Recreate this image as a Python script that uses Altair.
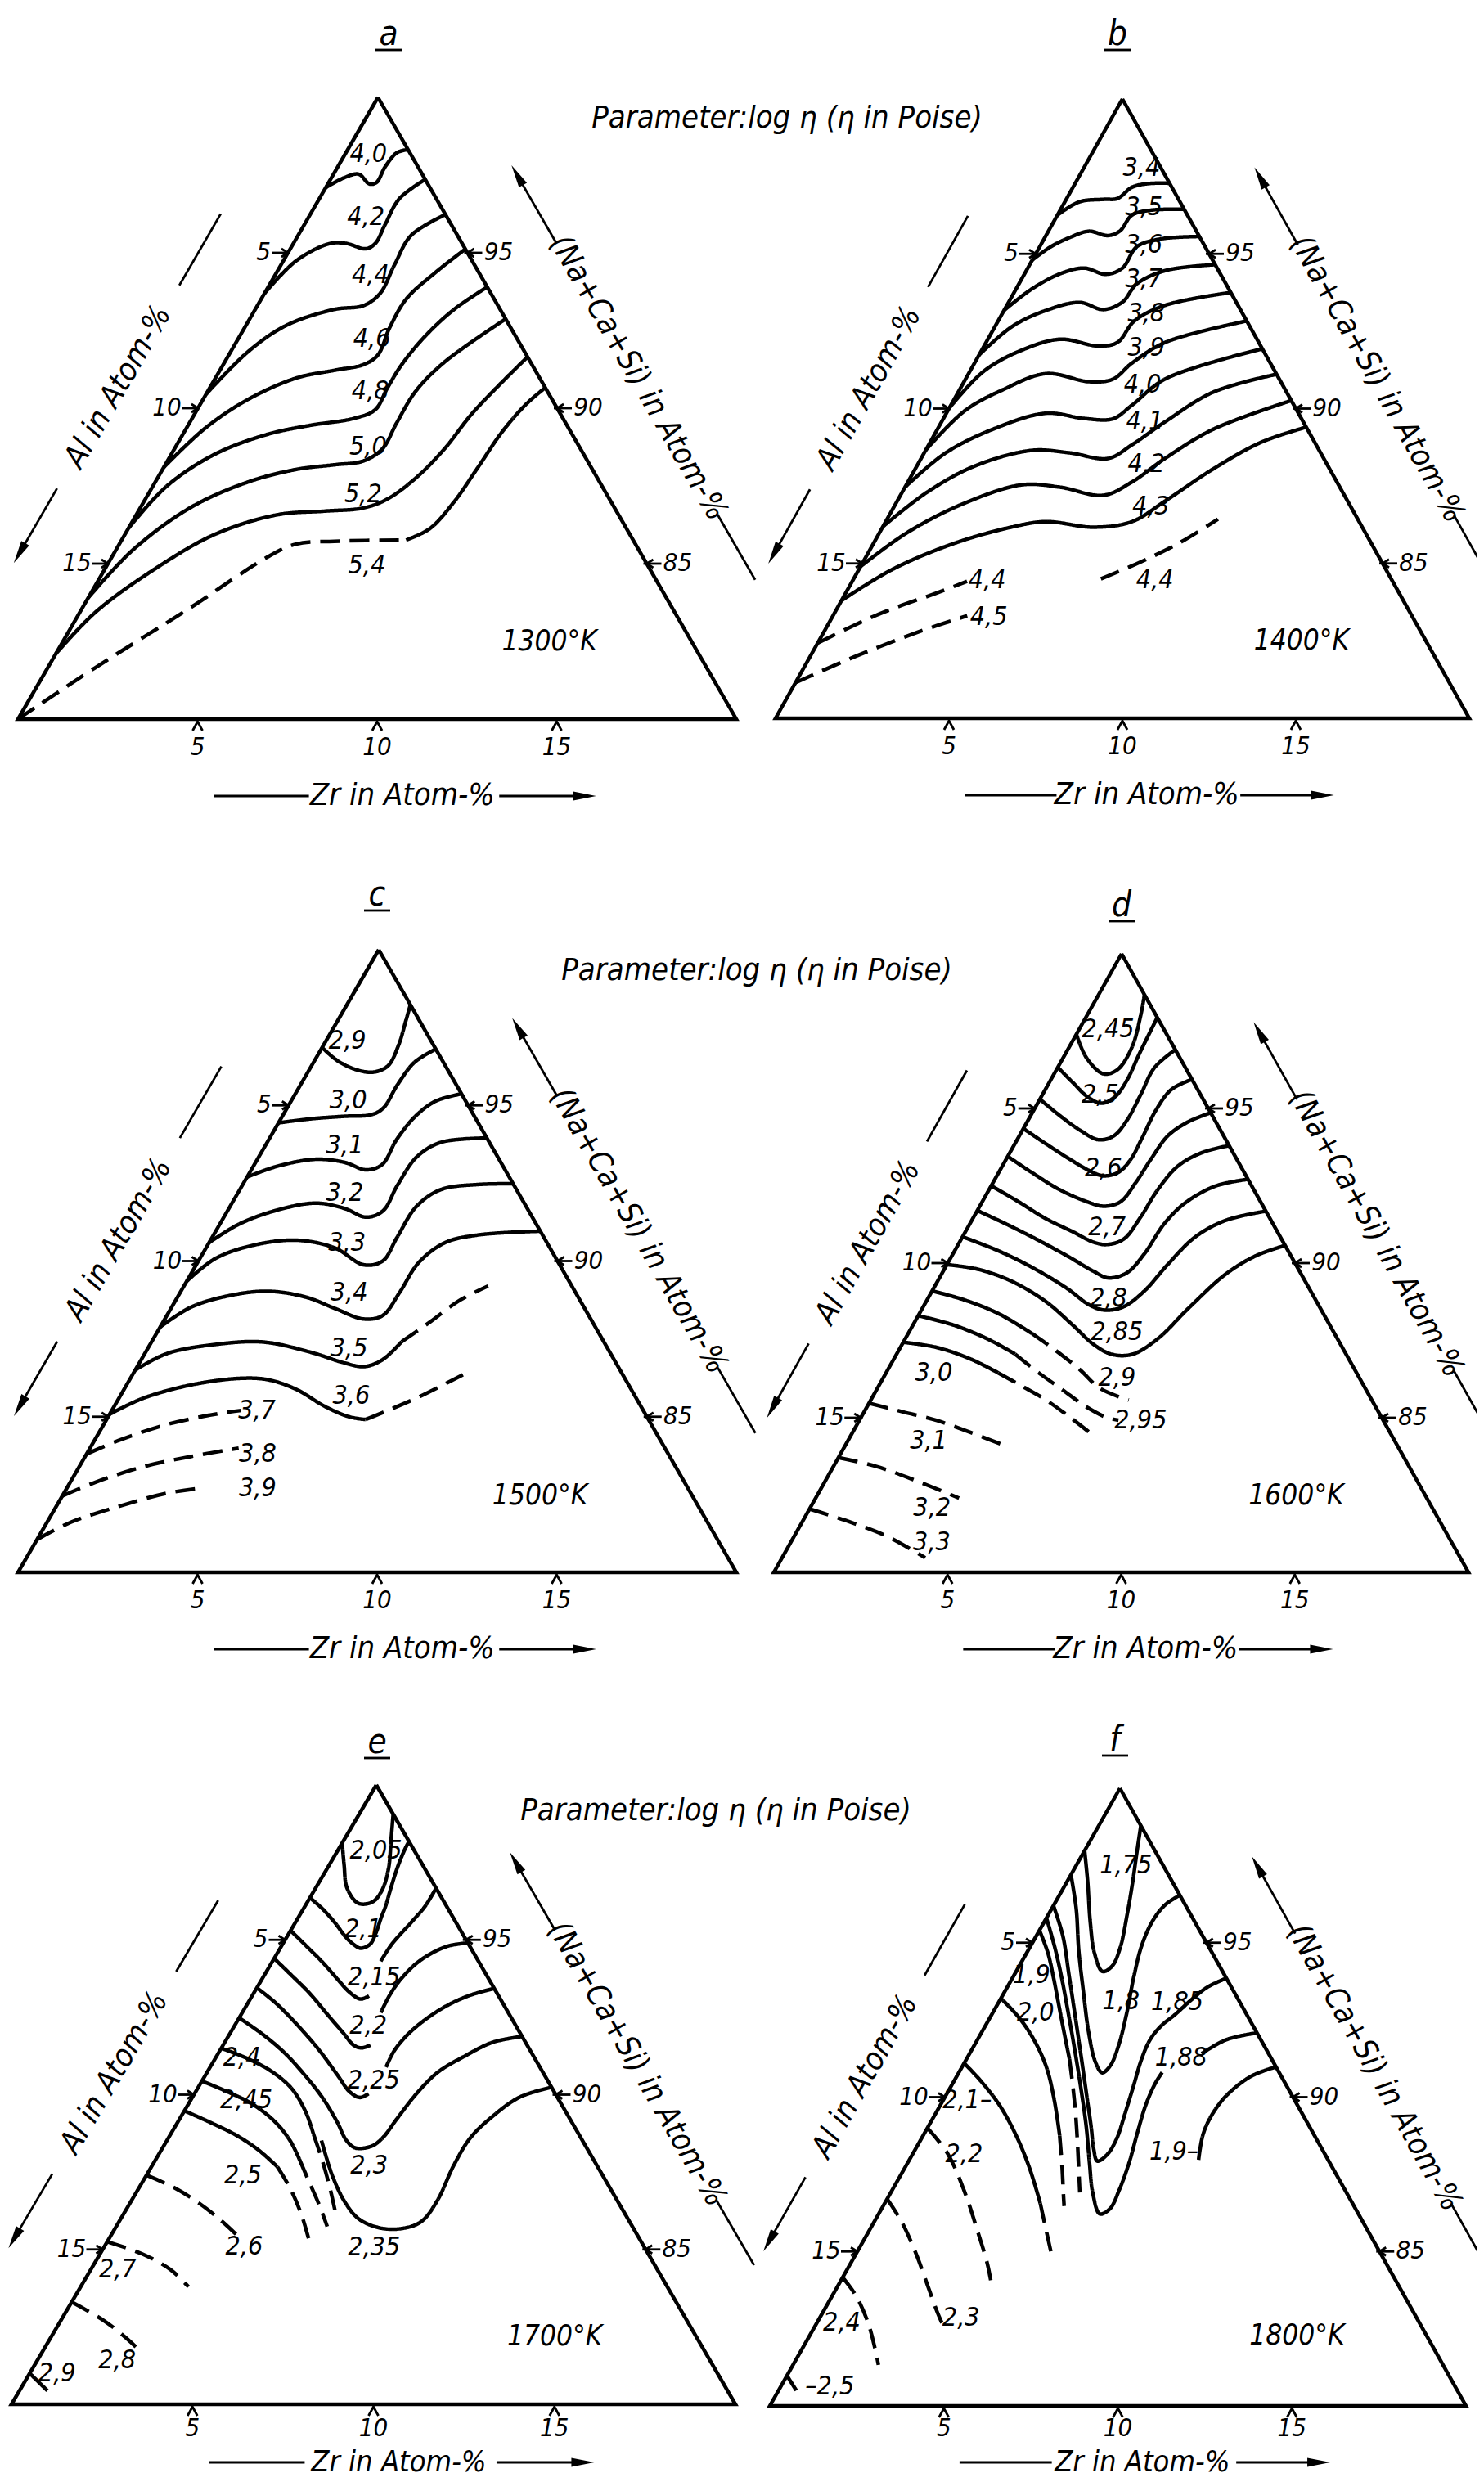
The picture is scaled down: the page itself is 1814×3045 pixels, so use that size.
import math
import altair as alt
import pandas as pd

# ---------------------------------------------------------------- data
PANEL_IDS = ["a", "b", "c", "d", "e", "f"]
TEMPERATURES = ["1300°K", "1400°K", "1500°K", "1600°K", "1700°K", "1800°K"]
TEMP_POS = [(13.55, 3.96), (13.91, 3.58), (13.3, 4.24), (13.8, 3.72), (13.9, 3.9), (14.0, 3.72)]  # (Zr, Al)
PARAM_TEXT = "Parameter:log η (η in Poise)"
ZR_TICKS = [5, 10, 15]
AL_TICKS = [5, 10, 15]
REST_TICKS = ["95", "90", "85"]
AXIS_ZR = "Zr in Atom-%"
AXIS_AL = "Al in Atom-%"
AXIS_REST = "(Na+Ca+Si) in Atom-%"

# iso-viscosity lines: (log eta label, style, [(Zr at-%, Al at-%), ...])
A_LINES = [
    ("4,0", "solid", [(0, 2.9), (0.36, 2.22), (0.70, 1.77), (1.15, 1.63), (1.33, 1.41), (1.32, 0.92), (1.42, 0.36), (1.68, 0)]),
    ("4,2", "solid", [(0, 6.3), (0.36, 4.89), (1.02, 3.68), (1.48, 3.22), (2.10, 2.77), (2.28, 2.42), (2.25, 1.85), (2.23, 1.03), (2.64, 0)]),
    ("4,4", "solid", [(0, 9.55), (0.49, 7.68), (1.13, 6.2), (2.21, 4.61), (2.95, 3.75), (3.22, 3.09), (3.16, 2.22), (3.15, 1.29), (3.77, 0)]),
    ("4,6", "solid", [(0, 11.9), (0.53, 10.1), (1.26, 8.45), (2.25, 6.78), (3.19, 5.59), (3.90, 4.70), (4.15, 4.15), (4.04, 3.37), (4.04, 2.44), (4.42, 1.22), (4.88, 0)]),
    ("4,8", "solid", [(0, 13.86), (0.39, 12.11), (1.21, 10.27), (2.36, 8.48), (3.41, 7.14), (4.50, 5.83), (4.96, 5.09), (4.95, 4.42), (4.97, 3.64), (5.17, 2.5), (5.54, 1.28), (6.1, 0)]),
    ("5,0", "solid", [(0, 16.1), (0.48, 14.06), (1.40, 11.79), (2.59, 9.78), (3.72, 8.25), (4.71, 7.11), (5.45, 6.25), (5.79, 5.52), (5.77, 4.70), (5.79, 3.66), (6.12, 2.40), (7.13, 0)]),
    ("5,2", "solid", [(0, 17.9), (0.43, 16.14), (1.35, 13.87), (2.50, 11.56), (3.92, 9.51), (5.19, 8.12), (6.21, 7.0), (6.73, 6.2), (7.19, 5.06), (7.52, 3.79), (7.73, 2.40), (8.35, 0)]),
    ("5,4", "dashed", [(0, 20), (1.32, 17.03), (3.01, 13.40), (4.33, 10.46), (4.92, 9.45), (5.94, 8.34), (7.92, 6.32)]),
    ("5,4", "solid", [(7.92, 6.32), (8.40, 5.47), (8.64, 4.38), (8.75, 3.16), (8.85, 1.92), (9.07, 0.81), (9.34, 0)]),
]
A_LABELS = [("4,0", 0.64, 1.17), ("4,2", 1.59, 2.26), ("4,4", 2.66, 3.06), ("4,6", 3.72, 4.04),
            ("4,8", 4.52, 4.92), ("5,0", 5.35, 5.88), ("5,2", 5.98, 6.78), ("5,4", 7.23, 7.82)]

B_LINES = [
    ("3,4", "solid", [(0, 3.75), (0.42, 2.90), (1.07, 2.17), (1.47, 1.74), (1.70, 1.15), (2.12, 0.61), (2.72, 0)]),
    ("3,5", "solid", [(0, 5.2), (0.32, 4.45), (0.72, 3.75), (1.17, 3.10), (1.79, 2.62), (2.06, 2.20), (2.15, 1.60), (2.62, 0.97), (3.56, 0)]),
    ("3,6", "solid", [(0, 6.83), (0.45, 5.69), (1.03, 4.61), (1.63, 3.83), (2.35, 3.31), (2.73, 2.73), (2.80, 1.97), (3.36, 1.16), (4.44, 0)]),
    ("3,7", "solid", [(0, 8.27), (0.50, 6.84), (1.21, 5.62), (2.05, 4.52), (2.85, 3.95), (3.28, 3.28), (3.40, 2.57), (4.01, 1.53), (5.35, 0)]),
    ("3,8", "solid", [(0, 9.98), (0.40, 8.39), (1.16, 6.95), (2.09, 5.67), (3.30, 4.68), (3.79, 4.07), (3.93, 3.24), (4.57, 2.09), (6.25, 0)]),
    ("3,9", "solid", [(0, 11.34), (0.49, 9.58), (1.25, 8.14), (2.23, 6.64), (3.60, 5.53), (4.25, 4.80), (4.54, 3.99), (5.17, 2.69), (7.17, 0)]),
    ("4,0", "solid", [(0, 12.54), (0.62, 10.81), (1.61, 9.05), (2.87, 7.28), (4.06, 6.26), (4.89, 5.44), (5.22, 4.67), (5.76, 3.28), (8.07, 0)]),
    ("4,1", "solid", [(0, 13.81), (0.71, 12.0), (1.66, 10.2), (3.06, 8.29), (4.20, 7.23), (5.39, 6.22), (5.86, 5.31), (6.45, 3.97), (7.35, 2.12), (8.89, 0)]),
    ("4,2", "solid", [(0, 15.1), (0.80, 13.2), (1.98, 11.07), (3.34, 9.12), (4.48, 8.06), (5.85, 6.95), (6.46, 5.91), (7.04, 4.56), (7.95, 2.72), (9.74, 0)]),
    ("4,3", "solid", [(0, 16.2), (0.98, 14.2), (2.35, 11.99), (3.74, 10.08), (4.62, 9.03), (6.09, 7.74), (7.10, 6.55), (7.73, 5.25), (8.59, 3.36), (9.54, 1.55), (10.6, 0)]),
    ("4,4", "dashed", [(0, 17.57), (1.29, 15.35), (2.61, 13.35), (3.31, 12.27)]),
    ("4,5", "dashed", [(0, 18.85), (1.29, 16.72), (2.69, 14.54), (3.87, 12.82)]),
    ("4,4", "dashed", [(7.13, 8.37), (8.02, 6.92), (8.82, 5.51), (9.54, 4.03)]),
]
B_LABELS = [("3,4", 1.66, 0.56), ("3,5", 2.37, 1.13), ("3,6", 2.97, 1.73), ("3,7", 3.52, 2.28),
            ("3,8", 4.15, 2.77), ("3,9", 4.70, 3.32), ("4,0", 5.19, 4.03), ("4,1", 5.85, 4.56),
            ("4,2", 6.58, 5.20), ("4,3", 7.40, 5.75), ("4,4", 3.87, 11.67), ("4,5", 4.51, 12.22),
            ("4,4", 8.70, 6.83)]

C_LINES = [
    ("2,9", "solid", [(0, 3.14), (0.65, 2.92), (1.33, 2.53), (1.83, 2.10), (2.13, 1.60), (2.09, 0.97), (1.90, 0.38), (1.77, 0)]),
    ("3,0", "solid", [(0, 5.56), (0.85, 4.58), (1.74, 3.61), (2.45, 2.85), (2.68, 2.41), (2.70, 1.63), (2.81, 0.81), (3.19, 0)]),
    ("3,1", "solid", [(0, 7.3), (0.68, 6.27), (1.63, 5.10), (2.48, 4.35), (3.20, 3.87), (3.56, 3.34), (3.56, 2.54), (3.71, 1.63), (4.03, 0.83), (4.63, 0)]),
    ("3,2", "solid", [(0, 9.41), (0.54, 8.27), (1.38, 6.98), (2.34, 5.80), (3.22, 5.09), (3.96, 4.63), (4.33, 4.06), (4.32, 3.25), (4.40, 2.26), (4.83, 1.36), (6.05, 0)]),
    ("3,3", "solid", [(0, 10.65), (0.43, 9.49), (1.28, 8.21), (2.40, 6.93), (3.59, 5.99), (4.66, 5.46), (5.13, 4.87), (5.15, 4.09), (5.19, 3.06), (5.59, 2.12), (6.57, 0.97), (7.52, 0)]),
    ("3,4", "solid", [(0, 12.12), (0.54, 10.94), (1.42, 9.69), (2.42, 8.55), (3.58, 7.58), (4.56, 6.96), (5.53, 6.33), (6.01, 5.74), (6.11, 4.91), (6.16, 3.89), (6.57, 2.84), (7.38, 1.78), (9.04, 0)]),
    ("3,5", "solid", [(0, 13.5), (0.62, 12.35), (1.81, 10.87), (3.10, 9.50), (4.60, 8.33), (5.70, 7.57), (6.32, 7.07), (6.72, 6.45), (6.96, 5.63)]),
    ("3,5", "dashed", [(6.96, 5.63), (7.44, 4.51), (7.90, 3.37), (8.47, 2.33)]),
    ("3,6", "solid", [(0, 14.92), (0.67, 13.74), (1.79, 12.19), (3.02, 10.75), (3.84, 9.97), (4.79, 9.33), (5.87, 8.80), (6.70, 8.30), (7.21, 7.88)]),
    ("3,6", "dashed", [(7.21, 7.88), (7.57, 7.30), (8.27, 6.14), (9.20, 4.45)]),
    ("3,7", "dashed", [(0, 16.2), (0.68, 15.08), (1.76, 13.49), (2.93, 11.99), (3.60, 11.2)]),
    ("3,8", "dashed", [(0, 17.55), (0.69, 16.42), (1.77, 14.84), (2.94, 13.34), (4.14, 11.87)]),
    ("3,9", "dashed", [(0, 18.95), (0.66, 17.73), (1.74, 16.14), (2.86, 14.60), (3.78, 13.51)]),
]
C_LABELS = [("2,9", 0.60, 2.33), ("3,0", 1.58, 3.26), ("3,1", 2.2, 4.07), ("3,2", 2.97, 4.83),
            ("3,3", 3.84, 5.57), ("3,4", 4.71, 6.31), ("3,5", 5.6, 7.2), ("3,6", 6.43, 7.9),
            ("3,7", 4.04, 10.76), ("3,8", 4.76, 11.43), ("3,9", 5.31, 11.98)]

D_LINES = [
    ("2,45", "solid", [(0, 2.6), (0.68, 2.69), (1.42, 2.46), (1.76, 1.98), (1.81, 1.21), (1.55, 0.45), (1.32, 0)]),
    ("2,5", "solid", [(0, 3.67), (0.69, 3.48), (1.36, 3.28), (1.85, 2.98), (2.13, 2.48), (2.20, 1.86), (2.13, 1.11), (2.06, 0)]),
    ("2,55", "solid", [(0, 4.7), (0.82, 4.40), (1.65, 4.05), (2.34, 3.67), (2.72, 3.17), (2.85, 2.52), (2.83, 1.72), (2.79, 0.89), (3.1, 0)]),
    ("2,6", "solid", [(0, 5.65), (0.89, 5.25), (1.83, 4.81), (2.60, 4.42), (3.07, 4.11), (3.45, 3.61), (3.59, 3.06), (3.57, 2.36), (3.52, 1.53), (3.63, 0.76), (4.06, 0)]),
    ("2,65", "solid", [(0, 6.55), (0.97, 6.11), (2.02, 5.60), (3.0, 5.01), (3.56, 4.60), (3.98, 4.04), (4.11, 3.29), (4.17, 2.47), (4.28, 1.60), (4.64, 0.79), (5.14, 0)]),
    ("2,7", "solid", [(0, 7.5), (1.05, 6.97), (2.10, 6.46), (3.10, 5.89), (3.85, 5.47), (4.28, 5.12), (4.68, 4.54), (4.81, 3.70), (4.86, 2.77), (5.06, 1.80), (5.53, 0.90), (6.2, 0)]),
    ("2,75", "solid", [(0, 8.3), (1.01, 7.71), (2.26, 7.01), (3.41, 6.40), (4.32, 5.94), (4.87, 5.61), (5.32, 4.99), (5.51, 4.20), (5.60, 3.12), (5.86, 2.20), (6.46, 1.05), (7.29, 0)]),
    ("2,8", "solid", [(0, 9.15), (1.25, 8.35), (2.50, 7.64), (3.81, 6.99), (4.77, 6.59), (5.29, 6.23), (5.77, 5.64), (6.11, 4.80), (6.36, 3.68), (6.70, 2.46), (7.31, 1.31), (8.32, 0)]),
    ("2,85", "solid", [(0, 10.05), (0.97, 9.23), (2.14, 8.45), (3.44, 7.80), (4.61, 7.40), (5.50, 7.12), (6.20, 6.75), (6.79, 6.16), (7.27, 5.18), (7.66, 3.81), (8.18, 2.18), (8.76, 1.0), (9.43, 0)]),
    ("2,9", "solid", [(0, 10.9), (1.07, 10.12), (2.27, 9.36), (3.57, 8.71)]),
    ("2,9", "dashed", [(3.57, 8.71), (4.53, 8.30), (5.52, 7.92), (6.41, 7.64), (7.43, 7.0)]),
    ("2,95", "solid", [(0, 11.7), (1.19, 10.82), (2.39, 10.07), (3.41, 9.53)]),
    ("2,95", "dashed", [(3.41, 9.53), (4.40, 9.15), (5.36, 8.74), (6.32, 8.33), (7.07, 7.92), (7.46, 7.62)]),
    ("3,0", "solid", [(0, 12.56), (1.06, 11.67), (2.23, 10.88), (3.23, 10.32)]),
    ("3,0", "dashed", [(3.23, 10.32), (4.13, 9.85), (5.03, 9.39), (5.99, 8.98), (6.83, 8.65)]),
    ("3,1", "dashed", [(0, 14.53), (1.12, 13.69), (2.24, 12.85), (3.41, 12.07), (4.48, 11.38)]),
    ("3,2", "dashed", [(0, 16.29), (1.22, 15.35), (2.51, 14.49), (4.13, 13.47)]),
    ("3,3", "dashed", [(0, 17.95), (1.22, 17.1), (2.64, 16.18), (4.12, 15.41)]),
]
D_LABELS = [("2,45", 0.83, 1.6), ("2,5", 1.66, 2.89), ("2,6", 2.94, 3.98), ("2,7", 4.0, 4.83),
            ("2,8", 5.2, 5.94), ("2,85", 5.99, 6.24), ("2,9", 6.73, 6.98), ("2,95", 8.1, 6.98),
            ("3,0", 1.37, 12.17), ("3,1", 2.32, 13.42), ("3,2", 3.5, 14.4), ("3,3", 4.06, 14.97)]

E_LINES = [
    ("2,05", "solid", [(0, 1.87), (0.41, 2.17), (0.87, 2.46), (1.43, 2.39), (1.80, 1.97), (1.87, 1.52), (1.69, 0.99), (1.30, 0.47), (0.94, 0)]),
    ("2,1", "solid", [(0, 3.64), (0.53, 3.47), (1.10, 3.35), (1.63, 3.28), (1.97, 3.18), (2.22, 3.05), (2.42, 2.72), (2.40, 2.40), (2.29, 1.98), (2.23, 1.69), (2.08, 1.25), (1.93, 0.75), (1.84, 0.28), (1.82, 0)]),
    ("2,15", "solid", [(0, 4.7), (0.70, 4.51), (1.38, 4.33), (2.10, 4.18), (2.60, 4.07), (3.04, 3.87), (3.23, 3.58)]),
    ("2,15", "solid", [(2.99, 2.70), (3.02, 2.12), (3.20, 1.24), (3.32, 0.60), (3.33, 0)]),
    ("2,2", "solid", [(0, 5.6), (0.72, 5.40), (1.54, 5.18), (2.42, 5.02), (3.15, 4.88), (3.59, 4.80), (3.86, 4.63), (4.07, 4.33)]),
    ("2,2", "solid", [(3.83, 3.52), (3.79, 3.03), (3.83, 2.47), (4.01, 1.75), (4.29, 1.12), (4.63, 0.56), (5.1, 0)]),
    ("2,25", "solid", [(0, 6.55), (0.74, 6.28), (1.70, 6.03), (2.71, 5.83), (3.64, 5.72), (4.26, 5.65), (4.63, 5.46), (4.81, 5.16)]),
    ("2,25", "solid", [(4.86, 4.25), (4.82, 3.76), (4.93, 3.12), (5.20, 2.33), (5.58, 1.51), (6.03, 0.75), (6.57, 0)]),
    ("2,3", "solid", [(0, 7.52), (0.90, 7.14), (1.81, 6.83), (2.66, 6.64), (3.56, 6.50), (4.40, 6.48), (4.96, 6.52), (5.33, 6.39), (5.75, 5.91), (5.92, 5.47), (6.0, 4.79), (6.13, 3.86), (6.37, 2.91), (6.86, 1.89), (7.40, 0.91), (8.12, 0)]),
    ("2,35", "solid", [(4.27, 7.21), (5.13, 7.47), (5.89, 7.55), (6.57, 7.44), (7.33, 6.98), (7.94, 6.38), (8.35, 5.75), (8.45, 4.99), (8.33, 3.95), (8.34, 3.06), (8.60, 2.11), (9.04, 1.04), (9.76, 0)]),
    ("2,4", "solid", [(0, 8.5), (0.86, 7.96), (1.77, 7.48), (2.61, 7.20), (3.38, 7.19), (3.95, 7.33)]),
    ("2,4", "dashed", [(3.95, 7.33), (4.66, 7.52), (5.33, 7.76), (5.96, 8.04)]),
    ("2,45", "solid", [(0, 9.56), (0.89, 9.02), (1.78, 8.53), (2.66, 8.20), (3.40, 8.08), (3.96, 8.12)]),
    ("2,45", "dashed", [(3.96, 8.12), (4.57, 8.21), (5.28, 8.31), (5.83, 8.43)]),
    ("2,5", "solid", [(0, 10.52), (0.96, 9.96), (1.85, 9.47), (2.69, 9.10), (3.48, 8.85)]),
    ("2,5", "dashed", [(3.48, 8.85), (4.16, 8.84), (4.87, 8.94), (5.49, 9.13), (5.71, 9.21)]),
    ("2,6", "dashed", [(0, 12.6), (0.96, 12.04), (1.90, 11.60), (2.79, 11.27), (3.45, 11.07)]),
    ("2,7", "dashed", [(0, 14.75), (1.15, 13.99), (2.2, 13.45), (2.98, 13.23)]),
    ("2,8", "dashed", [(0, 16.7), (1.16, 16.12), (2.12, 15.76), (2.78, 15.57)]),
    ("2,9", "solid", [(0, 19.0), (0.77, 18.79)]),
]
E_LABELS = [("2,05", 1.06, 1.06), ("2,1", 1.98, 2.67), ("2,15", 3.06, 3.14), ("2,2", 3.70, 4.08),
            ("2,25", 4.74, 4.81), ("2,3", 5.99, 6.29), ("2,35", 7.46, 7.46), ("2,4", 0.72, 8.08),
            ("2,45", 1.53, 8.63), ("2,5", 2.66, 9.93), ("2,6", 3.86, 11.05), ("2,7", 0.74, 14.91),
            ("2,8", 2.2, 16.37), ("2,9", 0.75, 18.24)]

F_LINES = [
    ("1,75", "solid", [(0, 2.02), (0.59, 2.43), (1.33, 3.01), (1.94, 3.38), (2.48, 3.45), (2.67, 3.09), (2.60, 2.55), (2.26, 1.82), (1.89, 1.14), (1.52, 0.53), (1.21, 0)]),
    ("1,8", "solid", [(0, 2.8), (0.71, 3.20), (1.45, 3.79), (2.24, 4.31), (3.06, 4.82), (3.75, 5.11), (4.12, 5.09), (4.24, 4.74), (4.15, 4.18), (3.85, 3.41), (3.47, 2.64), (3.18, 1.88), (3.10, 1.17), (3.20, 0.57), (3.46, 0)]),
    ("1,85", "solid", [(0, 3.8), (0.77, 4.02), (1.56, 4.46), (2.40, 4.94), (3.25, 5.43), (4.08, 5.92), (4.69, 6.28), (5.12, 6.56), (5.42, 6.65), (5.60, 6.25), (5.61, 5.72), (5.44, 5.08), (5.24, 4.41), (5.03, 3.73), (4.96, 3.18), (5.05, 2.65), (5.26, 2.08), (5.49, 1.37), (5.75, 0.69), (6.15, 0)]),
    ("1,88", "solid", [(0, 4.2), (0.71, 4.43), (1.40, 4.72), (2.17, 5.10), (2.98, 5.52), (3.78, 5.96), (4.55, 6.42), (5.22, 6.90), (5.80, 7.29), (6.35, 7.43), (6.56, 7.06), (6.52, 6.48), (6.36, 5.76), (6.11, 5.04), (5.90, 4.36), (5.82, 3.74), (5.84, 3.36)]),
    ("1,88", "solid", [(6.67, 1.92), (7.15, 0.99), (7.92, 0)]),
    ("1,9", "solid", [(0, 4.6), (0.61, 4.72), (1.16, 4.95), (1.76, 5.24), (2.36, 5.53), (2.96, 5.81)]),
    ("1,9", "dashed", [(2.96, 5.81), (3.50, 6.15), (4.02, 6.51), (4.52, 6.90), (5.0, 7.30), (5.43, 7.66)]),
    ("1,9", "solid", [(8.31, 3.72), (8.03, 3.20), (7.96, 2.66), (8.06, 1.90), (8.45, 0.88), (9.02, 0)]),
    ("2,0", "solid", [(0, 6.8), (0.84, 6.59), (1.62, 6.52), (2.42, 6.60), (3.18, 6.90), (3.92, 7.32)]),
    ("2,0", "dashed", [(3.92, 7.32), (4.52, 7.77), (5.0, 8.17), (5.2, 8.33)]),
    ("2,1", "solid", [(0, 8.9), (0.76, 8.71), (1.71, 8.56), (2.66, 8.57), (3.58, 8.71), (4.47, 8.97)]),
    ("2,1", "dashed", [(4.47, 8.97), (4.95, 9.18), (5.67, 9.49)]),
    ("2,2", "dashed", [(0, 11.0), (0.98, 10.83), (2.06, 10.95), (3.16, 11.23), (3.95, 11.47), (4.47, 11.72)]),
    ("2,3", "dashed", [(0, 13.3), (0.8, 13.25), (1.72, 13.35), (2.58, 13.53), (3.28, 13.68), (3.59, 13.72)]),
    ("2,4", "dashed", [(0, 15.84), (0.69, 15.75), (1.47, 15.84), (2.1, 16.06), (2.45, 16.22)]),
    ("2,5", "solid", [(0, 19.02), (0.51, 18.99)]),
]
F_LABELS = [("1,75", 1.43, 1.07), ("1,9", 0.49, 5.54), ("2,0", 1.23, 6.04), ("1,8", 3.5, 3.4),
            ("1,85", 5.12, 1.79), ("1,88", 6.14, 2.57), ("2,1–", 0.68, 9.4), ("2,2", 1.48, 10.37),
            ("1,9–", 7.47, 4.29), ("2,3", 4.05, 13.08), ("2,4", 0.71, 16.59), ("–2,5", 1.40, 17.96)]

LINES = dict(zip(PANEL_IDS, [A_LINES, B_LINES, C_LINES, D_LINES, E_LINES, F_LINES]))
LABELS = dict(zip(PANEL_IDS, [A_LABELS, B_LABELS, C_LABELS, D_LABELS, E_LABELS, F_LABELS]))

# ---------------------------------------------------------------- layout (page pixels)
GEOM = {
    "a": dict(T=(462, 119), L=(22, 879), R=(900, 879), letter=(475, 42), title_off=94, tick_off=35, title_size=38),
    "b": dict(T=(1372, 121), L=(948, 878), R=(1796, 878), letter=(1366, 42), title_off=94, tick_off=35, title_size=38),
    "c": dict(T=(463, 1161), L=(22, 1922), R=(900, 1922), letter=(461, 1094), title_off=94, tick_off=35, title_size=38),
    "d": dict(T=(1371, 1166), L=(946, 1922), R=(1795, 1922), letter=(1371, 1107), title_off=94, tick_off=35, title_size=38),
    "e": dict(T=(460, 2182), L=(14, 2939), R=(899, 2939), letter=(461, 2130), title_off=71, tick_off=30, title_size=36),
    "f": dict(T=(1369, 2186), L=(941, 2941), R=(1792, 2941), letter=(1363, 2127), title_off=69, tick_off=28, title_size=36),
}
PARAM_POS = [(962, 145), (925, 1187), (875, 2214)]
FONT = "DejaVu Sans Condensed, Liberation Sans Narrow, DejaVu Sans, sans-serif"
S_LABEL, S_TICK, S_LETTER, S_TEMP, S_PARAM = 32, 31, 42, 35, 38
S_SIDE = 38
W_LINE, W_TRI, W_DECO = 4.5, 4.5, 2.8


def tern(g, zr, al):
    (tx, ty), (lx, ly), (rx, ry) = g["T"], g["L"], g["R"]
    return (tx + al / 20 * (lx - tx) + zr / 20 * (rx - tx),
            ty + al / 20 * (ly - ty) + zr / 20 * (ry - ty))


def unit(vx, vy):
    n = math.hypot(vx, vy)
    return vx / n, vy / n


tri_rows, cont_rows, seg_rows, head_rows, text_rows = [], [], [], [], []
seg_id = [0]


def add_seg(pts):
    seg_id[0] += 1
    for j, (x, y) in enumerate(pts):
        seg_rows.append(dict(sid=seg_id[0], order=j, x=x, y=y))


def add_text(x, y, t, size, angle=0):
    text_rows.append(dict(x=x, y=y, text=t, size=size, angle=angle))


def add_arrow(x0, y0, x1, y1):
    dx, dy = unit(x1 - x0, y1 - y0)
    add_seg([(x0, y0), (x1 - 16 * dx, y1 - 16 * dy)])
    ang = math.degrees(math.atan2(dx, -dy)) % 360
    head_rows.append(dict(x=x1 - 14 * dx, y=y1 - 14 * dy, angle=ang))


for k, pid in enumerate(PANEL_IDS):
    g = GEOM[pid]
    T, L, R = g["T"], g["L"], g["R"]
    for j, pt in enumerate([T, L, R, T]):
        tri_rows.append(dict(cid=pid, order=j, x=pt[0], y=pt[1]))
    for i, (lvl, style, pts) in enumerate(LINES[pid]):
        for j, (zr, al) in enumerate(pts):
            x, y = tern(g, zr, al)
            cont_rows.append(dict(cid=f"{pid}{i}", level=lvl, style=style, order=j, x=x, y=y))
    for (t, zr, al) in LABELS[pid]:
        x, y = tern(g, zr, al)
        add_text(x, y, t, S_LABEL)
    x, y = tern(g, *TEMP_POS[k])
    add_text(x, y, TEMPERATURES[k], S_TEMP)

    dl = unit(L[0] - T[0], L[1] - T[1])
    nl = (-dl[1], dl[0])
    dr = unit(R[0] - T[0], R[1] - T[1])
    nr = (dr[1], -dr[0])

    def left_pt(al, off):
        fx, fy = tern(g, 0, al)
        return fx + off * nl[0], fy + off * nl[1]

    def right_pt(zr, off):
        fx, fy = tern(g, zr, 0)
        return fx + off * nr[0], fy + off * nr[1]

    def base_pt(zr, off):
        fx, fy = tern(g, zr, 20 - zr)
        return fx, fy + off

    # left axis (Al)
    add_arrow(*left_pt(13.9, 100), *left_pt(16.3, 100))
    add_seg([left_pt(7.3, 95), left_pt(5.0, 95)])
    lx, ly = left_pt(10.6, 97)
    add_text(lx, ly, AXIS_AL, S_SIDE, math.degrees(math.atan2(-dl[1], -dl[0])) % 360)
    # right axis (Na+Ca+Si)
    add_arrow(*right_pt(6.0, 100), *right_pt(3.5, 100))
    add_seg([right_pt(14.8, 105), right_pt(16.9, 105)])
    rx_, ry_ = right_pt(10.4, 104)
    add_text(rx_, ry_, AXIS_REST, S_SIDE, math.degrees(math.atan2(dr[1], dr[0])) % 360)
    # bottom axis (Zr)
    off = g["title_off"]
    add_seg([base_pt(5.45, off), base_pt(8.1, off)])
    bx, by = base_pt(10.7, off)
    add_text(bx, by, AXIS_ZR, g["title_size"])
    add_arrow(*base_pt(13.4, off), *base_pt(16.1, off))

    # ticks
    for v, rest in zip(AL_TICKS, REST_TICKS):
        ex, ey = tern(g, 0, v)
        add_seg([(ex - 20, ey), (ex, ey)])
        add_seg([(ex - 8, ey - 5), (ex, ey), (ex - 8, ey + 5)])
        add_text(ex - 22 - 8 * len(str(v)), ey, str(v), S_TICK)
        zx, zy = tern(g, v, 0)
        add_seg([(zx - 4, zy), (zx + 18, zy)])
        add_seg([(zx + 8, zy - 5), (zx, zy), (zx + 8, zy + 5)])
        add_text(zx + 22 + 8 * len(rest), zy, rest, S_TICK)
    for v in ZR_TICKS:
        bx0, by0 = base_pt(v, 0)
        add_seg([(bx0 - 6, by0 + 14), (bx0, by0 + 3), (bx0 + 6, by0 + 14)])
        add_text(bx0, by0 + g["tick_off"], str(v), S_TICK)

    # panel letter (underlined)
    tx, ty = g["letter"]
    add_text(tx, ty, pid, S_LETTER)
    add_seg([(tx - 16, ty + 19), (tx + 16, ty + 19)])

for (px, py) in PARAM_POS:
    add_text(px, py, PARAM_TEXT, S_PARAM)

tri_df = pd.DataFrame(tri_rows)
cont_df = pd.DataFrame(cont_rows)
seg_df = pd.DataFrame(seg_rows)
head_df = pd.DataFrame(head_rows)
text_df = pd.DataFrame(text_rows)

xs = alt.Scale(domain=[8, 1806], nice=False, zero=False)
ys = alt.Scale(domain=[8, 3032], nice=False, zero=False, reverse=True)


def X():
    return alt.X("x:Q", scale=xs, axis=None)


def Y():
    return alt.Y("y:Q", scale=ys, axis=None)


tri = alt.Chart(tri_df).mark_line(color="black", strokeWidth=W_TRI, strokeJoin="miter").encode(
    x=X(), y=Y(), detail="cid:N", order="order:Q")
cont = alt.Chart(cont_df).mark_line(color="black", strokeWidth=W_LINE, interpolate="catmull-rom").encode(
    x=X(), y=Y(), detail="cid:N", order="order:Q",
    strokeDash=alt.StrokeDash("style:N", scale=alt.Scale(domain=["solid", "dashed"], range=[[1, 0], [24, 12]]), legend=None))
deco = alt.Chart(seg_df).mark_line(color="black", strokeWidth=W_DECO).encode(
    x=X(), y=Y(), detail="sid:N", order="order:Q")
heads = alt.Chart(head_df).mark_point(shape="M0,-1L0.4,1L-0.4,1Z", filled=True, size=784,
                                      color="black", opacity=1, strokeWidth=0).encode(
    x=X(), y=Y(), angle=alt.Angle("angle:Q", scale=None))
txt = alt.Chart(text_df).mark_text(font=FONT, fontStyle="italic", color="black",
                                   align="center", baseline="middle").encode(
    x=X(), y=Y(), text="text:N", size=alt.Size("size:Q", scale=None),
    angle=alt.Angle("angle:Q", scale=None))

chart = alt.layer(tri, cont, deco, heads, txt).properties(
    width=1798, height=3024, padding=0,
    autosize=alt.AutoSizeParams(type="none"), background="white",
).configure_view(stroke=None)

chart.save("out.html", embed_options={"renderer": "svg", "actions": False})
